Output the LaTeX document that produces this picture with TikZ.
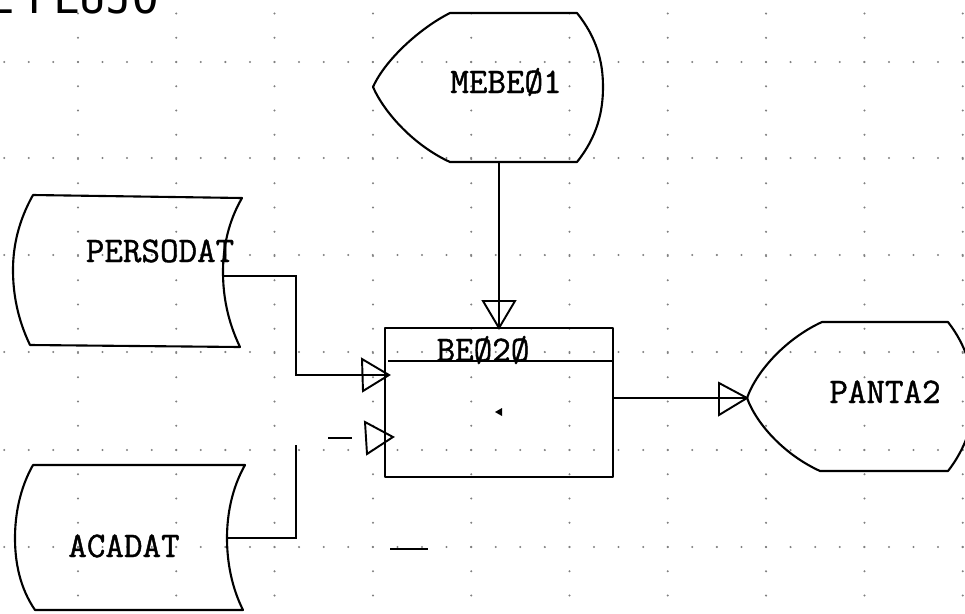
\documentclass[tikz,border=0pt]{standalone}
\usepackage{fontspec}
\newfontfamily\lblfont[FakeBold=1.2]{Latin Modern Mono}
\newfontfamily\titlefont{DejaVu Sans Mono}
\begin{document}
\begin{tikzpicture}[x=0.02cm,y=-0.02cm,
  shp/.style={line width=1.2pt, line join=round},
  conn/.style={line width=0.8pt},
  tri/.style={line width=1.1pt, line join=miter},
  lbl/.style={font=\lblfont\fontsize{20.5}{20.5}\selectfont, inner sep=0pt, anchor=base},
  griddot/.style={fill=black!50}]
\useasboundingbox (0,0) rectangle (965,613);
% dotted grid paper
\foreach \r in {62,158,255,352,450,547}
  \foreach \i in {0,...,39}
    \fill[griddot] ({4.2+24.575*\i},\r) circle (0.65pt);
\foreach \c in {0,...,9}
  \foreach \j in {0,...,25}
    \fill[griddot] ({78+98.3*\c},{13.5+24.25*\j}) circle (0.65pt);
% title (cut by the page edge, as in the reference)
\node[font=\titlefont\fontsize{25}{25}\selectfont, inner sep=0pt, anchor=base west] (title) at (-12,13) {E\hspace{7pt}FLUJO};
% MEBE01 display shape
\draw[shp] (450,13) -- (577,13) .. controls (597,38) and (603,62) .. (603,87)
  .. controls (603,112) and (597,137) .. (577,162) -- (450,162)
  .. controls (415,146) and (385,114) .. (373,87)
  .. controls (385,60) and (420,28) .. (450,13) -- cycle;
\node[lbl] (mebe) at (506,93) {MEBEØ1};
\coordinate (mebeB) at (499,162);
% PERSODAT stored data
\draw[shp] (33,195) -- (242,198) .. controls (228,222) and (223,248) .. (223,272)
  .. controls (223,297) and (228,322) .. (240,347) -- (30,345)
  .. controls (18,320) and (13,295) .. (13,270)
  .. controls (13,245) and (19,220) .. (33,195) -- cycle;
\node[lbl] (perso) at (160,262) {PERSODAT};
\coordinate (persoR) at (223,276);
% ACADAT stored data
\draw[shp] (33,465) -- (245,465) .. controls (232,488) and (227,514) .. (227,538)
  .. controls (227,563) and (232,588) .. (243,610) -- (35,610)
  .. controls (20,588) and (15,563) .. (15,538)
  .. controls (15,514) and (20,488) .. (33,465) -- cycle;
\node[lbl] (acad) at (124,557) {ACADAT};
\coordinate (acadR) at (227,538);
% process box BE020
\draw[shp] (385,328) rectangle (613,477);
\draw[conn] (388,361) -- (613,361);
\node[lbl] (be) at (483,361) {BEØ2Ø};
\coordinate (boxT) at (499,328);
\coordinate (boxR) at (613,398);
\fill (495,412) -- (502,408) -- (502,416) -- cycle;
% PANTA2 display shape
\draw[shp] (822,322) -- (948,322) .. controls (966,345) and (974,372) .. (974,397)
  .. controls (974,422) and (966,448) .. (948,471) -- (820,471)
  .. controls (785,455) and (757,425) .. (747,398)
  .. controls (757,370) and (787,338) .. (822,322) -- cycle;
\node[lbl] (panta) at (885,403) {PANTA2};
\coordinate (pantaL) at (747,398);
% connectors
\coordinate (a1tip) at (389,375);
\coordinate (a2tip) at (393,437);
\draw[conn] (mebeB) -- (boxT);
\draw[tri] (483,301) -- (515,301) -- (boxT) -- cycle;
\draw[conn] (persoR) -- (296,276) -- (296,375) -- (a1tip);
\draw[tri] (362,359) -- (a1tip) -- (363,391) -- cycle;
\coordinate (acadEnd) at (296,445);
\draw[conn] (acadR) -- (296,538) -- (acadEnd);
\coordinate (d1) at (328,438);
\coordinate (d2) at (352,438);
\draw[conn] (d1) -- (d2);
\draw[tri] (365,422) -- (a2tip) -- (367,454) -- cycle;
\draw[conn] (boxR) -- (pantaL);
\draw[tri] (719,383) -- (pantaL) -- (719,415) -- cycle;
\coordinate (e1) at (390,549);
\coordinate (e2) at (428,549);
\draw[conn] (e1) -- (e2);
\end{tikzpicture}
\end{document}
